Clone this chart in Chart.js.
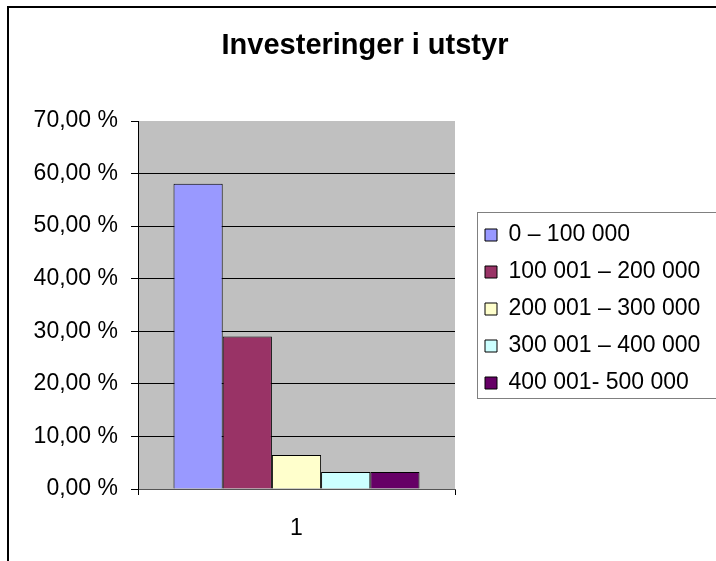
<!DOCTYPE html>
<html>
<head>
<meta charset="utf-8">
<title>Investeringer i utstyr</title>
<script src="https://cdn.jsdelivr.net/npm/chart.js@4.4.1/dist/chart.umd.min.js"></script>
<style>
  html, body { margin: 0; padding: 0; background: #fff; overflow: hidden; }
  #mainChart { display: block; }
</style>
</head>
<body>
<canvas id="mainChart" width="780" height="561"></canvas>
<script>
var categories = ['1'];
var seriesNames = ['0 – 100 000', '100 001 – 200 000', '200 001 – 300 000', '300 001 – 400 000', '400 001- 500 000'];
var seriesValues = [58.06, 29.03, 6.45, 3.23, 3.23];
var seriesColors = ['#9999FF', '#993366', '#FFFFCC', '#CCFFFF', '#660066'];
var yTicks = [0, 10, 20, 30, 40, 50, 60, 70];

var fontName = "'Liberation Sans', Arial, sans-serif";

var datasets = [];
for (var i in seriesNames) {
  datasets.push({
    label: seriesNames[i],
    data: [seriesValues[i]],
    backgroundColor: seriesColors[i],
    borderColor: '#000',
    borderWidth: 1,
    categoryPercentage: 0.776,
    barPercentage: 1.0
  });
}

// grey plot area, white page, outer frame, legend frame
var excelLook = {
  id: 'excelLook',
  beforeDraw: function(chart) {
    var ctx = chart.ctx, a = chart.chartArea;
    ctx.save();
    ctx.fillStyle = '#fff';
    ctx.fillRect(0, 0, chart.width, chart.height);
    ctx.fillStyle = '#C0C0C0';
    ctx.fillRect(a.left, a.top, a.right - a.left, a.bottom - a.top);
    ctx.restore();
  },
  afterLayout: function(chart) {
    // legend sits a little right of the plot area and runs off the page
    var lg = chart.legend;
    lg.left += 16;
    lg.right = lg.left + 400;
    lg.top += 4; lg.bottom += 4;
    // title centred over the whole chart object (which is wider than the window)
    var t = chart.titleBlock;
    t.left = 0;
    t.right = 730;
  },
  afterDraw: function(chart) {
    var ctx = chart.ctx;
    var hb = chart.legend.legendHitBoxes;
    ctx.save();
    if (hb && hb.length) {
      var top = hb[0].top - 11.5;
      var bottom = hb[hb.length - 1].top + 11.5 + 15;
      var left = hb[0].left - 8;
      ctx.strokeStyle = '#808080';
      ctx.lineWidth = 1;
      ctx.strokeRect(Math.round(left) + 0.5, Math.round(top) + 0.5, 400, Math.round(bottom - top));
    }
    ctx.strokeStyle = '#000';
    ctx.lineWidth = 2;
    ctx.strokeRect(8, 7, 1000, 1000);
    ctx.restore();
  }
};

var chart = new Chart(document.getElementById('mainChart'), {
  type: 'bar',
  data: {
    labels: categories,
    datasets: datasets
  },
  options: {
    responsive: false,
    animation: false,
    devicePixelRatio: 1,
    layout: { padding: { left: 0, right: 175, top: 0, bottom: 0 } },
    plugins: {
      title: {
        display: true,
        text: 'Investeringer i utstyr',
        color: '#000',
        font: { family: fontName, size: 29, weight: 'bold', lineHeight: 1.2 },
        padding: { top: 29, bottom: 57.2 }
      },
      legend: {
        position: 'right',
        fullSize: false,
        maxWidth: 150,
        labels: {
          color: '#000',
          font: { family: fontName, size: 23 },
          boxWidth: 12,
          boxHeight: 12,
          padding: 14
        }
      },
      tooltip: { enabled: false }
    },
    scales: {
      x: {
        offset: true,
        grid: {
          offset: true,
          drawOnChartArea: false,
          drawTicks: true,
          tickLength: 6,
          tickColor: '#000',
          color: '#000'
        },
        border: { color: '#555', width: 1 },
        ticks: {
          color: '#000',
          padding: 20,
          font: { family: fontName, size: 23 }
        },
        afterFit: function(scale) { scale.height = 72; }
      },
      y: {
        min: 0,
        max: 70,
        afterBuildTicks: function(scale) {
          scale.ticks = yTicks.map(function(v) { return { value: v }; });
        },
        grid: {
          color: function(c) { return c.tick && c.tick.value === 70 ? 'rgba(0,0,0,0)' : '#000'; },
          tickColor: '#000',
          tickLength: 7,
          lineWidth: 1
        },
        border: { color: '#000', width: 1 },
        ticks: {
          color: '#000',
          padding: 13,
          font: { family: fontName, size: 23 },
          callback: function(v) { return Number(v).toFixed(2).replace('.', ',') + ' %'; }
        },
        afterFit: function(scale) { scale.width = 138; }
      }
    }
  },
  plugins: [excelLook]
});
</script>
</body>
</html>
